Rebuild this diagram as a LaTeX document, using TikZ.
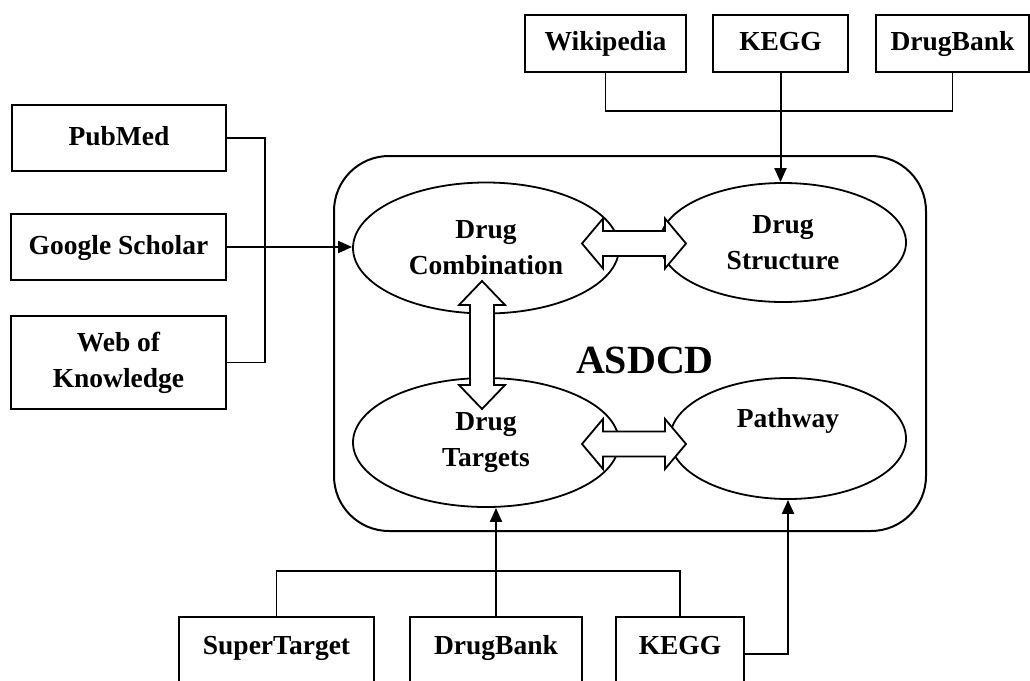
\documentclass[tikz,border=0pt]{standalone}
\usepackage{fontspec}
\setmainfont{Liberation Serif}
\usetikzlibrary{arrows.meta,calc,shapes.geometric}
\newcommand\txtfont{\bfseries\fontsize{27.5}{36}\selectfont}
\begin{document}
\begin{tikzpicture}[x=1pt,y=-1pt,
  box/.style={draw, line width=2pt, rectangle, inner sep=0pt, font=\txtfont, align=center},
  sl/.style={box, text height=19pt, text depth=5pt},
  bbox/.style={box, text height=37pt, text depth=46pt, anchor=base},
  ell/.style={draw, line width=1.8pt, ellipse, inner sep=0pt, font=\txtfont, align=center},
  ln/.style={line width=1.8pt},
  arr/.style={line width=2pt, -{Triangle[length=14pt,width=12pt]}},
  darr/.style={draw, line width=1.8pt, fill=white, line join=miter},
  hdarr/.pic={\path[darr] (-52,0) -- ++(21,-25) -- ++(0,12.5) -- ++(62,0) -- ++(0,-12.5)
      -- ++(21,25) -- ++(-21,25) -- ++(0,-12.5) -- ++(-62,0) -- ++(0,12.5) -- cycle;},
  vdarr/.pic={\path[darr] (0,-64) -- ++(-23,24) -- ++(11,0) -- ++(0,80) -- ++(-11,0)
      -- ++(23,24) -- ++(23,-24) -- ++(-11,0) -- ++(0,-80) -- ++(11,0) -- cycle;}
]
\useasboundingbox (0,0) rectangle (1030,680);
\fill[white] (0,0) rectangle (1030,680);

% top sources
\node[sl, minimum width=161pt, minimum height=57pt] (wiki) at (605.5,43.5) {Wikipedia};
\node[sl, minimum width=135pt, minimum height=57pt] (keggA) at (780.5,43.5) {KEGG};
\node[sl, minimum width=153pt, minimum height=57pt] (dbA) at (952.5,43.5) {DrugBank};

% left sources
\node[sl, minimum width=214pt, minimum height=66pt] (pm) at (119,138) {PubMed};
\node[sl, minimum width=215pt, minimum height=66pt] (gs) at (118.5,247) {Google Scholar};
\node[box, minimum width=215pt, minimum height=93pt] (wk) at (118.5,362.5) {Web of\\Knowledge};

% main container
\node[draw, line width=2pt, rounded corners=55pt, minimum width=592pt, minimum height=375pt] (main) at (630,343.5) {};
\node[font=\bfseries\fontsize{40}{40}\selectfont, inner sep=0pt] (title) at (645,360) {ASDCD};

% ellipses
\node[ell, minimum width=266pt, minimum height=131pt] (dc) at (486,248) {Drug\\Combination};
\node[ell, minimum width=246pt, minimum height=119pt] (ds) at (783,242.5) {Drug\\Structure};
\node[ell, minimum width=266pt, minimum height=129pt] (dt) at (486,442.5) {Drug\\Targets};
\node[ell, minimum width=236pt, minimum height=121pt] (pw) at (788,438.5) {Pathway\\\phantom{Targets}};

% double arrows
\coordinate (h1) at (634,243.5);
\coordinate (h2) at (634,444);
\coordinate (v1) at (482,345);
\pic at (h1) {hdarr};
\pic at (h2) {hdarr};
\pic at (v1) {vdarr};

% bottom sources
\node[bbox, minimum width=195pt] (st) at (276.5,654) {SuperTarget};
\node[bbox, minimum width=172pt] (dbB) at (496,654) {DrugBank};
\node[bbox, minimum width=128pt] (keggB) at (680,654) {KEGG};

% connectors
\coordinate (lj) at (265,247);
\draw[ln] (pm.east) -| (lj) |- (wk.east);
\draw[arr] (gs.east) -- (gs.east -| dc.west);

\coordinate (tj) at (773,111);
\draw[ln] (wiki.south) |- (tj) -| (dbA.south);
\draw[arr] (keggA.south) -- (keggA.south |- ds.north);

\coordinate (bj) at (491,571);
\draw[ln] (st.north) |- (bj) -| (keggB.north);
\draw[arr] (dbB.north) -- (dbB.north |- dt.south);
\draw[arr] (keggB.base east) -| (pw.south);
\end{tikzpicture}
\end{document}
